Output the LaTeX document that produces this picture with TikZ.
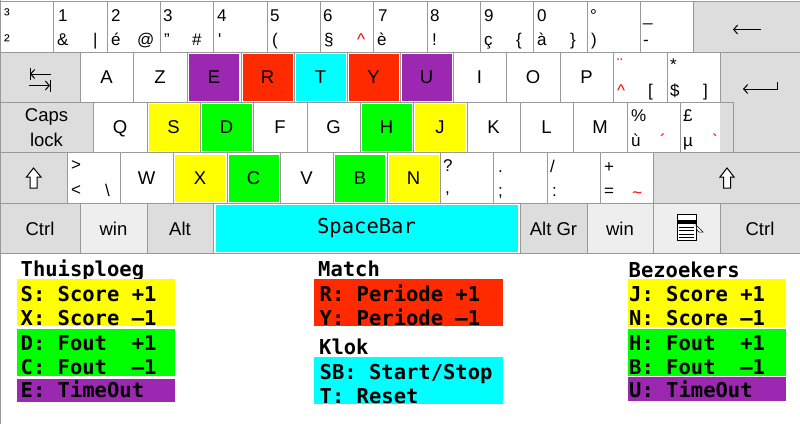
\documentclass[tikz,border=0pt]{standalone}
\usepackage{fontspec}
\usetikzlibrary{arrows.meta}
\setmainfont{Liberation Sans}
\setmonofont{DejaVu Sans Mono}
\definecolor{keygrey}{HTML}{DDDDDD}
\definecolor{wingrey}{HTML}{EEEEEE}
\definecolor{keyline}{HTML}{999999}
\definecolor{purplekey}{HTML}{9C27B0}
\definecolor{redkey}{HTML}{FF2A00}
\definecolor{cyankey}{HTML}{00FFFF}
\definecolor{yellowkey}{HTML}{FFFF00}
\definecolor{greenkey}{HTML}{00FF00}
\tikzset{
  keybox/.style={draw=keyline,line width=1pt,fill=white,inner sep=0pt,font=\fontsize{18.5}{25}\selectfont,align=flush center},
  lettercap/.style={text height=13pt,text depth=0pt},
  tintbox/.style={inner sep=0pt,font=\fontsize{18.5}{25}\selectfont,lettercap},
  legendchar/.style={anchor=base west,inner sep=0pt,font=\fontsize{17}{20}\selectfont},
  titlechar/.style={anchor=base west,inner sep=0pt,font=\fontsize{20.5}{24}\ttfamily\bfseries},
  legbox/.style={anchor=north west,inner ysep=0pt,align=flush left,font=\fontsize{20.5}{24}\ttfamily\bfseries},
  keyarrow/.style={line width=1pt,-{Straight Barb[length=4pt,width=9pt]}}
}
% #1 style, #2 name, #3 x left, #4 x right, #5 y top, #6 y bottom, #7 label
\newcommand{\keycap}[7][]{\node[keybox,#1,minimum width={#4-#3},minimum height={#6-#5}] (key#2) at ({(#3+#4)/2},{(#5+#6)/2}) {#7}}
% coloured letter inside its cell
\newcommand{\tintcap}[3]{\node[tintbox,fill=#2,minimum width=50,minimum height=47] (tint#1) at (key#1) {#3}}

\begin{document}
\begin{tikzpicture}[x=1pt,y=-1pt]
    \useasboundingbox (0,0) rectangle (800,424);
    \fill[white] (0,0) rectangle (800,424);
    \draw[keyline,line width=1.5pt] (0.5,0) -- (0.5,424);

    % number row
    \foreach \xa/\xb/\nm in {0/53/a,53/107/b,107/160/c,160/213/d,213/267/e,267/320/f,320/373/g,373/427/h,427/480/i,480/533/j,533/587/k,587/640/l,640/693/m}
      \keycap{top\nm}{\xa}{\xb}{1.5}{52}{};
    \keycap[fill=keygrey]{back}{693}{800}{1.5}{52}{};

    % letter rows
    \keycap[fill=keygrey]{tab}{0}{80}{52}{102}{};
    \foreach \xa/\xb/\nm in {80/133/A,133/187/Z,187/241/E,241/294/R,294/347/T,347/400/Y,400/453/U,453/506/I,506/560/O,560/613/P}
      \keycap[lettercap]{\nm}{\xa}{\xb}{52}{102}{\nm};
    \keycap{hat}{613}{667}{52}{102}{};
    \keycap{star}{667}{720}{52}{102}{};

    \keycap[fill=keygrey]{caps}{0}{93}{102}{152.5}{Caps\\lock};
    \foreach \xa/\xb/\nm in {93/147/Q,147/200/S,200/253/D,253/307/F,307/360/G,360/413/H,413/467/J,467/520/K,520/573/L,573/627/M}
      \keycap[lettercap]{\nm}{\xa}{\xb}{102}{152.5}{\nm};
    \keycap{pct}{627}{680}{102}{152.5}{};
    \keycap{pound}{680}{733}{102}{152.5}{};
    % enter key spans two rows
    \node[keybox,draw=none,fill=keygrey,minimum width=80,minimum height=101] (keyenter) at (760,102.5) {};
    \draw[keyline,line width=1pt] (720,52) -- (800,52) (720,52) -- (720,102) -- (733,102) -- (733,152.5) -- (800,152.5);

    \keycap[fill=keygrey]{lshift}{0}{67}{152.5}{203.5}{};
    \keycap{less}{67}{120}{152.5}{203.5}{};
    \foreach \xa/\xb/\nm in {120/173/W,173/227/X,227/280/C,280/333/V,333/387/B,387/440/N}
      \keycap[lettercap]{\nm}{\xa}{\xb}{152.5}{203.5}{\nm};
    \foreach \xa/\xb/\nm in {440/493/a,493/547/b,547/600/c,600/653/d}
      \keycap{punct\nm}{\xa}{\xb}{152.5}{203.5}{};
    \keycap[fill=keygrey]{rshift}{653}{800}{152.5}{203.5}{};

    % bottom row
    \keycap[fill=keygrey]{lctrl}{0}{80}{203.5}{253.5}{Ctrl};
    \keycap[fill=wingrey]{lwin}{80}{147}{203.5}{253.5}{win};
    \keycap[fill=keygrey]{alt}{147}{213}{203.5}{253.5}{Alt};
    \keycap{space}{213}{520}{203.5}{253.5}{};
    \keycap[fill=keygrey]{altgr}{520}{587}{203.5}{253.5}{Alt Gr};
    \keycap[fill=wingrey]{rwin}{587}{653}{203.5}{253.5}{win};
    \keycap[fill=wingrey]{menu}{653}{720}{203.5}{253.5}{};
    \keycap[fill=keygrey]{rctrl}{720}{800}{203.5}{253.5}{Ctrl};

    % coloured keys
    \tintcap{E}{purplekey}{E};
    \tintcap{R}{redkey}{R};
    \tintcap{T}{cyankey}{T};
    \tintcap{Y}{redkey}{Y};
    \tintcap{U}{purplekey}{U};
    \tintcap{S}{yellowkey}{S};
    \tintcap{D}{greenkey}{D};
    \tintcap{H}{greenkey}{H};
    \tintcap{J}{yellowkey}{J};
    \tintcap{X}{yellowkey}{X};
    \tintcap{C}{greenkey}{C};
    \tintcap{B}{greenkey}{B};
    \tintcap{N}{yellowkey}{N};
    \node[fill=cyankey,inner sep=0pt,minimum width=302,minimum height=47,font=\fontsize{20.5}{24}\ttfamily] (tintspace) at (keyspace) {SpaceBar};

    % small legends on the keys
    \foreach \x/\y/\txt [count=\i] in {4/20/³,4/46/²,58/21/1,57/45/\&,93/45/|,111/21/2,111/45/é,137/45/@,163/21/3,164/45/",192/45/\#,217/21/4,218/45/\textquotesingle,
      270/21/5,272/45/(,323/21/6,324/45/§,378/21/7,377/45/è,430/21/8,432/45/!,484/21/9,484/45/ç,516/45/\{,537/21/0,537/45/à,570/45/\},590/21/°,591/45/),643/21/\_,643/45/-,
      648/96/[,670/70/*,670/96/\$,703/96/],631/121/\%,631/146/ù,683/121/£,683/146/µ,
      71/170/>,71/195/<,105/196/\textbackslash,443/171/?,445/193/{,},498/172/.,498/196/;,550/172/{/},552/196/:,604/172/+,604/196/=}
      \node[legendchar] (legend\i) at (\x,\y) {\txt};
    \foreach \x/\y/\txt [count=\i] in {357/45/\textasciicircum,617/70/¨,617/96/\textasciicircum,660/146/\textasciiacute,712/146/\textasciigrave,632/198/\textasciitilde}
      \node[legendchar,text=red] (accent\i) at (\x,\y) {\txt};

    % key symbols
    \draw[keyarrow] (761,29.5) -- (733,29.5);
    \draw[keyarrow] (777,82) -- (777,89) -- (743,89);
    \draw[keyarrow] (51,74) -- (30,74);
    \draw[line width=1pt] (30,68) -- (30,80);
    \draw[keyarrow] (29,85.5) -- (50,85.5);
    \draw[line width=1pt] (50.5,80) -- (50.5,92);
    \draw[line width=1pt,fill=white] (33.5,168) -- (41,177) -- (37,177) -- (37,188) -- (30,188) -- (30,177) -- (26.5,177) -- cycle;
    \draw[line width=1pt,fill=white] (727,168) -- (734,177) -- (730.5,177) -- (730.5,188) -- (723.5,188) -- (723.5,177) -- (720,177) -- cycle;

    % menu icon
    \draw[line width=.8pt,fill=white] (677.5,214) rectangle (696,240);
    \fill (677.5,220) rectangle (696,223.5);
    \foreach \y in {227,230.5,234,237.5}
      \draw[line width=.8pt] (679,\y) -- (694,\y);
    \draw[line width=.5pt,fill=white] (696,225) -- (703,232) -- (699,232) -- (697,230) -- cycle;

    % score tables
    \node[titlechar] (thuis) at (20.5,276) {Thuisploeg};
    \node[legbox,fill=yellowkey,text width=150,inner xsep=4,text height=22.7,text depth=24.3] (homescore) at (16.5,279) {S: Score +1\\X: Score –1};
    \node[legbox,fill=greenkey,text width=150,inner xsep=4,text height=21,text depth=26] (homefout) at (16.5,329) {D: Fout\ \ +1\\C: Fout\ \ –1};
    \node[legbox,fill=purplekey,text width=150,inner xsep=4,text height=18.3,text depth=4.7] (hometime) at (16.5,379) {E: TimeOut};

    \node[titlechar] (match) at (318,276) {Match};
    \node[legbox,fill=redkey,text width=177.5,inner xsep=5.5,text height=22.7,text depth=24.3] (matchperiod) at (314,279) {R: Periode +1\\Y: Periode –1};
    \node[titlechar] (klok) at (319,354) {Klok};
    \node[legbox,fill=cyankey,text width=177.5,inner xsep=5.5,text height=22,text depth=25] (klokstart) at (314,357) {SB: Start/Stop\\T: Reset};

    \node[titlechar] (bezoek) at (628.5,277) {Bezoekers};
    \node[legbox,fill=yellowkey,text width=155,inner xsep=1.5,text height=22.7,text depth=25.3] (awayscore) at (627.5,279) {J: Score +1\\N: Score –1};
    \node[legbox,fill=greenkey,text width=155,inner xsep=1.5,text height=21.5,text depth=25.5] (awayfout) at (627.5,328.5) {H: Fout\ \ +1\\B: Fout\ \ –1};
    \node[legbox,fill=purplekey,text width=155,inner xsep=1.5,text height=20.3,text depth=3.7] (awaytime) at (627.5,377) {U: TimeOut};
\end{tikzpicture}
\end{document}
